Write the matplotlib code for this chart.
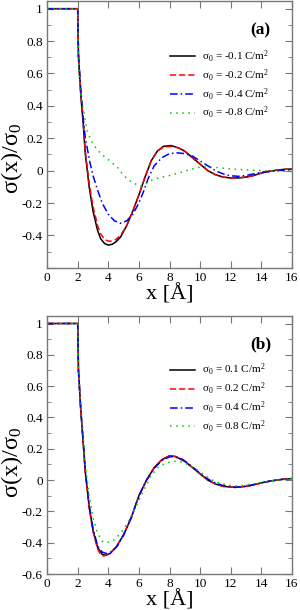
import numpy as np
import matplotlib
matplotlib.use("Agg")
import matplotlib.pyplot as plt
from matplotlib.ticker import MultipleLocator

plt.rcParams["font.family"] = ["Liberation Serif", "DejaVu Serif"]
plt.rcParams["mathtext.fontset"] = "custom"
plt.rcParams["mathtext.rm"] = "Liberation Serif"
plt.rcParams["mathtext.it"] = "Liberation Serif:italic"
plt.rcParams["axes.unicode_minus"] = False

# ---- panel (a): negative surface charge ----
xa_m01 = [0, 2.0, 2.05, 2.2, 2.35, 2.5, 2.75, 3.0, 3.3, 3.5, 3.75, 4.0, 4.25, 4.5, 4.8,
          5.2, 5.6, 6.0, 6.4, 6.8, 7.2, 7.6, 8.1, 8.6, 9.0, 9.5, 10.0, 10.5, 11.0, 11.5,
          12.0, 12.5, 13.0, 13.5, 14.0, 14.5, 15.0, 15.5, 16.0]
ya_m01 = [1, 1, 0.7, 0.47, 0.3, 0.1, -0.1, -0.25, -0.37, -0.42, -0.45, -0.46, -0.455,
          -0.44, -0.41, -0.34, -0.25, -0.15, -0.04, 0.06, 0.12, 0.15, 0.155, 0.14, 0.12,
          0.08, 0.04, 0.0, -0.025, -0.04, -0.045, -0.045, -0.04, -0.03, -0.015, -0.005,
          0.003, 0.008, 0.01]
xa_m02 = [0, 2.0, 2.05, 2.2, 2.35, 2.5, 2.75, 3.0, 3.3, 3.5, 3.75, 4.0, 4.25, 4.5, 4.8,
          5.2, 5.6, 6.0, 6.4, 6.8, 7.2, 7.6, 8.1, 8.6, 9.0, 9.5, 10.0, 10.5, 11.0, 11.5,
          12.0, 12.5, 13.0, 13.5, 14.0, 14.5, 15.0, 15.5, 16.0]
ya_m02 = [1, 1, 0.7, 0.48, 0.32, 0.12, -0.08, -0.22, -0.34, -0.39, -0.425, -0.435,
          -0.435, -0.425, -0.40, -0.34, -0.25, -0.15, -0.04, 0.06, 0.12, 0.145, 0.15,
          0.14, 0.12, 0.08, 0.04, 0.0, -0.025, -0.04, -0.045, -0.045, -0.04, -0.03,
          -0.015, -0.005, 0.003, 0.008, 0.01]
xa_m04 = [0, 2.0, 2.05, 2.2, 2.35, 2.5, 2.8, 3.0, 3.3, 3.6, 4.0, 4.4, 4.8, 5.2, 5.6, 6.0,
          6.3, 6.6, 7.0, 7.5, 8.0, 8.5, 9.0, 9.5, 10.0, 10.5, 11.0, 11.5, 12.0, 12.5,
          13.0, 13.5, 14.0, 15.0, 16.0]
ya_m04 = [1, 1, 0.72, 0.5, 0.33, 0.2, 0.05, -0.03, -0.12, -0.2, -0.27, -0.31, -0.325,
          -0.31, -0.27, -0.2, -0.13, -0.05, 0.03, 0.08, 0.105, 0.11, 0.105, 0.09, 0.06,
          0.03, 0.0, -0.02, -0.032, -0.035, -0.03, -0.02, -0.01, 0.0, 0.005]
xa_m08 = [0, 2.0, 2.05, 2.15, 2.27, 2.4, 2.6, 2.9, 3.25, 3.7, 4.1, 4.6, 5.0, 5.5, 6.1,
          6.3, 6.7, 7.3, 8.0, 8.7, 9.3, 9.8, 10.2, 10.8, 11.5, 12.0, 13.0, 14.0, 15.0,
          16.0]
ya_m08 = [1, 1, 0.7, 0.5, 0.42, 0.36, 0.25, 0.18, 0.13, 0.09, 0.06, 0.02, -0.03, -0.07,
          -0.097, -0.09, -0.064, -0.045, -0.03, -0.012, 0.005, 0.018, 0.025, 0.022,
          0.015, 0.01, 0.005, 0.0, -0.003, -0.005]

# ---- panel (b): positive surface charge ----
xb_p01 = [0, 2.0, 2.05, 2.2, 2.35, 2.5, 2.75, 3.0, 3.3, 3.6, 3.8, 4.1, 4.5, 5.0, 5.5,
          6.0, 6.5, 7.0, 7.5, 8.0, 8.4, 9.0, 9.5, 10.0, 10.5, 11.0, 11.5, 12.3, 13.0,
          13.5, 14.0, 14.5, 15.0, 15.5, 16.0]
yb_p01 = [1, 1, 0.7, 0.45, 0.25, 0.05, -0.17, -0.32, -0.43, -0.475, -0.48, -0.47,
          -0.43, -0.35, -0.24, -0.1, 0.0, 0.08, 0.13, 0.155, 0.15, 0.12, 0.08, 0.04,
          0.0, -0.025, -0.04, -0.047, -0.04, -0.03, -0.018, -0.008, 0.0, 0.006, 0.01]
xb_p02 = [0, 2.0, 2.05, 2.2, 2.35, 2.5, 2.75, 3.0, 3.3, 3.5, 3.7, 4.0, 4.5, 5.0, 5.5,
          6.0, 6.5, 7.0, 7.5, 8.0, 8.4, 9.0, 9.5, 10.0, 10.5, 11.0, 11.5, 12.3, 13.0,
          13.5, 14.0, 14.5, 15.0, 15.5, 16.0]
yb_p02 = [1, 1, 0.7, 0.45, 0.25, 0.04, -0.18, -0.33, -0.44, -0.475, -0.485, -0.475,
          -0.43, -0.35, -0.24, -0.1, 0.0, 0.08, 0.13, 0.155, 0.15, 0.12, 0.08, 0.04,
          0.0, -0.025, -0.04, -0.047, -0.04, -0.03, -0.018, -0.008, 0.0, 0.006, 0.01]
xb_p04 = [0, 2.0, 2.05, 2.2, 2.35, 2.5, 2.75, 3.0, 3.3, 3.6, 3.9, 4.2, 4.6, 5.0, 5.5,
          6.0, 6.5, 7.0, 7.5, 8.0, 8.3, 8.8, 9.3, 9.8, 10.3, 10.8, 11.5, 12.3, 13.0,
          13.5, 14.0, 14.5, 15.0, 15.5, 16.0]
yb_p04 = [1, 1, 0.7, 0.45, 0.26, 0.06, -0.16, -0.31, -0.42, -0.46, -0.47, -0.46,
          -0.42, -0.35, -0.24, -0.1, 0.0, 0.075, 0.125, 0.148, 0.15, 0.135, 0.1, 0.06,
          0.02, -0.01, -0.035, -0.045, -0.04, -0.03, -0.018, -0.008, 0.0, 0.006, 0.01]
xb_p08 = [0, 2.0, 2.05, 2.2, 2.35, 2.5, 2.75, 3.0, 3.3, 3.6, 3.9, 4.3, 4.8, 5.3, 5.8,
          6.3, 6.8, 7.3, 7.8, 8.3, 8.8, 9.3, 9.8, 10.3, 10.8, 11.3, 12.0, 12.5, 13.0,
          14.0, 15.0, 16.0]
yb_p08 = [1, 1, 0.7, 0.47, 0.3, 0.1, -0.1, -0.24, -0.34, -0.39, -0.40, -0.39, -0.34,
          -0.27, -0.17, -0.07, 0.03, 0.085, 0.11, 0.12, 0.115, 0.095, 0.065, 0.03, 0.0,
          -0.02, -0.035, -0.038, -0.032, -0.015, 0.0, 0.008]

labels_a = ["-0.1", "-0.2", "-0.4", "-0.8"]
labels_b = ["0.1", "0.2", "0.4", "0.8"]
yticks = [-0.6, -0.4, -0.2, 0, 0.2, 0.4, 0.6, 0.8, 1]
ytick_labels = ["-0.6", "-0.4", "-0.2", "0", "0.2", "0.4", "0.6", "0.8", "1"]
xticks = [0, 2, 4, 6, 8, 10, 12, 14, 16]

colors = ["black", "#ff0000", "#0000ff", "#00cc00"]
styles = ["-", (0, (4, 2)), (0, (5, 2, 1, 2)), (0, (1, 3))]

fig = plt.figure(figsize=(3.0, 6.1), dpi=100)
ax_a = fig.add_axes([0.157, 0.561, 0.816, 0.438])
ax_b = fig.add_axes([0.157, 0.059, 0.816, 0.4235])

panels = [
    (ax_a, [(xa_m01, ya_m01), (xa_m02, ya_m02), (xa_m04, ya_m04), (xa_m08, ya_m08)],
     labels_a, "(a)", 0.41),
    (ax_b, [(xb_p01, yb_p01), (xb_p02, yb_p02), (xb_p04, yb_p04), (xb_p08, yb_p08)],
     labels_b, "(b)", 0.434),
]

for ax, series, labs, tag, ylab_y in panels:
    for (xs, ys), lab, c, ls in zip(series, labs, colors, styles):
        ax.plot(xs, ys, color=c, linestyle=ls, lw=1.1,
                label="σ$_\\mathrm{0}$ = " + lab + " C/m$^\\mathrm{2}$")
    ax.set_xlim(0, 16)
    ax.set_ylim(-0.6, 1.05)
    ax.set_xticks(xticks)
    ax.set_xticklabels([str(t) for t in xticks])
    ax.set_yticks(yticks)
    ax.set_yticklabels(ytick_labels)
    ax.yaxis.set_minor_locator(MultipleLocator(0.1))
    ax.tick_params(which="both", direction="in", top=True, right=True,
                   labelsize=9.5, color="#777777", pad=3)
    ax.tick_params(which="major", length=5)
    ax.tick_params(which="minor", length=3)
    for sp in ax.spines.values():
        sp.set_color("#777777")
        sp.set_linewidth(1.0)
    ax.set_xlabel("x [Å]", fontsize=16, labelpad=0)
    ax.set_ylabel("σ(x)/σ$_\\mathrm{0}$", fontsize=17.5)
    ax.yaxis.set_label_coords(-0.09, ylab_y)
    ax.text(0.873, 0.888, tag, transform=ax.transAxes, fontsize=12.5,
            fontweight="bold", ha="center", va="center")
    ax.legend(loc="upper left", bbox_to_anchor=(0.5, 0.82), frameon=False,
              fontsize=8, handlelength=2.3, handletextpad=0.6, labelspacing=0.25,
              borderpad=0, borderaxespad=0)

ax_a.get_yticklabels()[0].set_visible(False)

fig.savefig("out.png", dpi=100)
